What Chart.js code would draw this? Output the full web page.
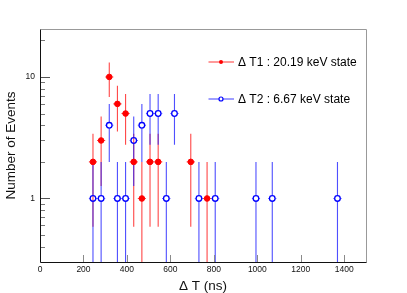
<!DOCTYPE html>
<html><head><meta charset="utf-8">
<script src="https://cdn.jsdelivr.net/npm/chart.js@4.4.1/dist/chart.umd.min.js"></script>
<style>html,body{margin:0;padding:0;background:#fff}canvas{display:block}</style>
</head><body>
<canvas id="c" width="407" height="293"></canvas>
<script>
// ---- data ----
const binCentersT1 = [243.75, 281.25, 318.75, 356.25, 393.75, 431.25, 468.75, 506.25, 543.75, 693.75, 768.75];
const countsT1     = [2, 3, 10, 6, 5, 2, 1, 2, 2, 2, 1];
const binCentersT2 = [243.75, 281.25, 318.75, 356.25, 393.75, 431.25, 468.75, 506.25, 543.75, 581.25, 618.75, 731.25, 806.25, 993.75, 1068.75, 1368.75];
const countsT2     = [1, 1, 4, 1, 1, 3, 4, 5, 5, 1, 5, 1, 1, 1, 1, 1];
const binHalfWidth = 18.75;
const xTickValues = [0, 200, 400, 600, 800, 1000, 1200, 1400];
const yTickValues = [1, 10];
const yMinorTickValues = [0.4, 0.5, 0.6, 0.7, 0.8, 0.9, 2, 3, 4, 5, 6, 7, 8, 9, 20];
const labelT1 = "\u0394 T1 : 20.19 keV state";
const labelT2 = "\u0394 T2 : 6.67 keV state";
const xTitle = "\u0394 T (ns)";
const yTitle = "Number of Events";

const RED = 'rgb(255,0,0)';
const BLUE = 'rgb(0,0,255)';
const RED_ERR = 'rgba(255,0,0,0.72)';
const BLUE_ERR = 'rgba(30,30,255,0.78)';
const FONT = '"Liberation Sans", Arial, Helvetica, sans-serif';
Chart.defaults.font.family = FONT;

function toPoints(xs, ys) { return xs.map((x, i) => ({x: x, y: ys[i]})); }

const errorBars = {
  id: 'errorBars',
  beforeDatasetsDraw(chart) {
    const {ctx, chartArea, scales: {x, y}} = chart;
    ctx.save();
    ctx.beginPath();
    ctx.rect(chartArea.left, chartArea.top, chartArea.right - chartArea.left, chartArea.bottom - chartArea.top);
    ctx.clip();
    chart.data.datasets.forEach((ds, di) => {
      const gap = ds.errGap || 0;
      ctx.strokeStyle = ds.errColor;
      ctx.lineWidth = 1.1;
      ds.data.forEach(p => {
        const e = Math.sqrt(p.y);
        const px = x.getPixelForValue(p.x);
        const py = y.getPixelForValue(p.y);
        const top = y.getPixelForValue(p.y + e);
        const lowV = p.y - e;
        const bot = lowV > 0 ? y.getPixelForValue(lowV) : chartArea.bottom;
        const xl = x.getPixelForValue(p.x - binHalfWidth);
        const xr = x.getPixelForValue(p.x + binHalfWidth);
        ctx.beginPath();
        ctx.moveTo(px, top); ctx.lineTo(px, py - gap);
        ctx.moveTo(px, py + gap); ctx.lineTo(px, Math.min(bot, chartArea.bottom));
        ctx.moveTo(xl, py); ctx.lineTo(px - gap, py);
        ctx.moveTo(px + gap, py); ctx.lineTo(xr, py);
        ctx.stroke();
      });
    });
    ctx.restore();
  }
};

const frameAndTicks = {
  id: 'frameAndTicks',
  afterDraw(chart) {
    const {ctx, chartArea: a, scales: {x, y}} = chart;
    ctx.save();
    ctx.lineWidth = 1;
    // x ticks (inward)
    ctx.strokeStyle = '#8a8a8a';
    xTickValues.forEach(v => {
      const px = Math.round(x.getPixelForValue(v)) + 0.5;
      ctx.beginPath(); ctx.moveTo(px, a.bottom); ctx.lineTo(px, a.bottom - 7); ctx.stroke();
    });
    // y minor ticks
    ctx.strokeStyle = '#777';
    yMinorTickValues.forEach(v => {
      const py = Math.round(y.getPixelForValue(v)) + 0.5;
      ctx.beginPath(); ctx.moveTo(a.left, py); ctx.lineTo(a.left + 5, py); ctx.stroke();
    });
    // y major ticks
    ctx.strokeStyle = '#555';
    yTickValues.forEach(v => {
      const py = Math.round(y.getPixelForValue(v)) + 0.5;
      ctx.beginPath(); ctx.moveTo(a.left, py); ctx.lineTo(a.left + 10, py); ctx.stroke();
    });
    // frame
    const L = Math.round(a.left) + 0.5, R = Math.round(a.right) + 0.5;
    const T = Math.round(a.top) + 0.5, B = Math.round(a.bottom) + 0.5;
    ctx.strokeStyle = '#999';
    ctx.beginPath(); ctx.moveTo(L, T); ctx.lineTo(R, T); ctx.lineTo(R, B); ctx.stroke();
    ctx.strokeStyle = '#111';
    ctx.beginPath(); ctx.moveTo(L, T); ctx.lineTo(L, B); ctx.lineTo(R, B); ctx.stroke();

    // legend
    const entries = [
      {label: labelT1, color: RED_ERR, mk: RED, filled: true, yy: 62},
      {label: labelT2, color: BLUE_ERR, mk: BLUE, filled: false, yy: 99}
    ];
    ctx.font = '12px ' + FONT;
    ctx.textBaseline = 'middle';
    ctx.textAlign = 'left';
    entries.forEach(en => {
      ctx.strokeStyle = en.color;
      ctx.lineWidth = 1.1;
      ctx.beginPath(); ctx.moveTo(208.5, en.yy); ctx.lineTo(234, en.yy); ctx.stroke();
      ctx.beginPath(); ctx.arc(221, en.yy, 2, 0, Math.PI * 2);
      if (en.filled) { ctx.fillStyle = en.mk; ctx.fill(); }
      else { ctx.fillStyle = '#fff'; ctx.fill(); ctx.strokeStyle = en.mk; ctx.lineWidth = 1.2; ctx.stroke(); }
      ctx.fillStyle = '#000';
      ctx.fillText(en.label, 238, en.yy + 0.5);
    });
    ctx.restore();
  }
};

new Chart(document.getElementById('c'), {
  type: 'scatter',
  data: {
    datasets: [
      {
        label: labelT1,
        data: toPoints(binCentersT1, countsT1),
        backgroundColor: RED, borderColor: RED, borderWidth: 1,
        pointRadius: 2.8, pointHoverRadius: 2.8, pointStyle: 'circle',
        errColor: RED_ERR, errGap: 0
      },
      {
        label: labelT2,
        data: toPoints(binCentersT2, countsT2),
        backgroundColor: 'rgba(255,255,255,0)', borderColor: BLUE, borderWidth: 1.3,
        pointRadius: 2.8, pointHoverRadius: 2.8, pointStyle: 'circle',
        errColor: BLUE_ERR, errGap: 3.2
      }
    ]
  },
  options: {
    responsive: false,
    devicePixelRatio: 1,
    animation: false,
    events: [],
    layout: {padding: {top: 29, right: 41, left: 0, bottom: 0}},
    plugins: {legend: {display: false}, tooltip: {enabled: false}},
    scales: {
      x: {
        type: 'linear', min: 0, max: 1500,
        afterFit(s) { s.height = 31; },
        afterBuildTicks(s) { s.ticks = xTickValues.map(v => ({value: v})); },
        grid: {display: false, drawTicks: false},
        border: {display: false},
        ticks: {padding: 3, color: '#111', font: {size: 8.5}, maxRotation: 0, autoSkip: false,
                callback: v => String(v)},
        title: {display: true, text: xTitle, color: '#111', font: {size: 13.5, lineHeight: 1.0}, padding: {top: 0, bottom: 0}}
      },
      y: {
        type: 'logarithmic', min: 0.3, max: 24.8,
        afterFit(s) { s.width = 40; },
        afterBuildTicks(s) { s.ticks = yTickValues.map(v => ({value: v})); },
        grid: {display: false, drawTicks: false},
        border: {display: false},
        ticks: {padding: 5, color: '#111', font: {size: 8.5}, autoSkip: false,
                callback: v => String(v)},
        title: {display: true, text: yTitle, color: '#111', font: {size: 13.5, lineHeight: 1.0}, padding: {top: 5, bottom: 0}}
      }
    }
  },
  plugins: [errorBars, frameAndTicks]
});
</script>
</body></html>
